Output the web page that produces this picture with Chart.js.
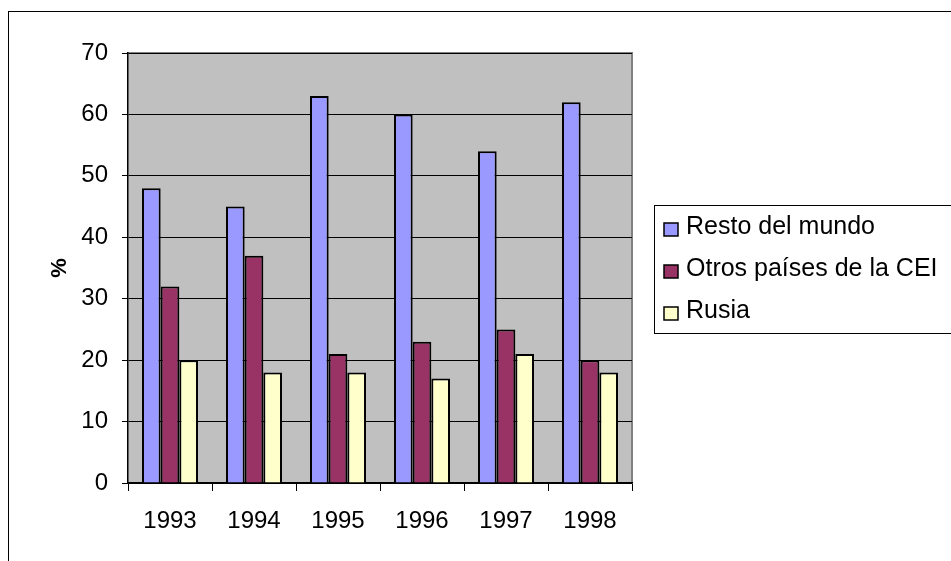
<!DOCTYPE html>
<html>
<head>
<meta charset="utf-8">
<script src="https://cdn.jsdelivr.net/npm/chart.js@4"></script>
<style>
  html, body { margin: 0; padding: 0; background: #ffffff; }
  #wrap { width: 951px; height: 561px; position: relative; }
</style>
</head>
<body>
<div id="wrap"><canvas id="chart" width="951" height="561"></canvas></div>
<script>
// Datos del grafico
const years = ['1993', '1994', '1995', '1996', '1997', '1998'];
const restoDelMundo = [48, 45, 63, 60, 54, 62];
const otrosPaisesCEI = [32, 37, 21, 23, 25, 20];
const rusia = [20, 18, 18, 17, 21, 18];
const seriesNames = ['Resto del mundo', 'Otros países de la CEI', 'Rusia'];
const seriesColors = ['#9999FF', '#993366', '#FFFFCC'];

const FONT = 'Arial, "Liberation Sans", sans-serif';

// Outer frame + gray plot background
const framePlugin = {
    id: 'frame',
    beforeDraw(chart) {
        const ctx = chart.ctx;
        const a = chart.chartArea;
        ctx.save();
        ctx.fillStyle = '#ffffff';
        ctx.fillRect(0, 0, chart.width, chart.height);
        ctx.strokeStyle = '#000000';
        ctx.lineWidth = 1;
        ctx.strokeRect(8.5, 11.5, chart.width + 20, chart.height + 20);
        ctx.fillStyle = '#C0C0C0';
        ctx.fillRect(a.left, a.top, a.right - a.left, a.bottom - a.top);
        ctx.strokeStyle = '#808080';
        ctx.lineWidth = 2;
        ctx.beginPath();
        ctx.moveTo(a.left, a.top);
        ctx.lineTo(a.right, a.top);
        ctx.lineTo(a.right, a.bottom);
        ctx.stroke();
        ctx.restore();
    }
};

// Boxed legend on the right
const boxLegendPlugin = {
    id: 'boxLegend',
    afterDraw(chart) {
        const ctx = chart.ctx;
        const x0 = 654.5, y0 = 205.5, w = 310, h = 128;
        ctx.save();
        ctx.fillStyle = '#ffffff';
        ctx.fillRect(x0, y0, w, h);
        ctx.strokeStyle = '#000000';
        ctx.lineWidth = 1;
        ctx.strokeRect(x0, y0, w, h);
        ctx.font = '25px ' + FONT;
        ctx.textBaseline = 'middle';
        chart.data.datasets.forEach((ds, i) => {
            const cy = 227 + i * 42;
            ctx.fillStyle = ds.backgroundColor;
            ctx.fillRect(664, cy - 4, 14, 13);
            ctx.strokeStyle = '#000000';
            ctx.lineWidth = 1.5;
            ctx.strokeRect(664, cy - 4, 14, 13);
            ctx.fillStyle = '#000000';
            ctx.fillText(ds.label, 686, cy);
        });
        ctx.restore();
    }
};

const ctx = document.getElementById('chart').getContext('2d');
new Chart(ctx, {
    type: 'bar',
    data: {
        labels: years,
        datasets: [restoDelMundo, otrosPaisesCEI, rusia].map((values, i) => ({
            label: seriesNames[i],
            data: values,
            backgroundColor: seriesColors[i],
            borderColor: '#000000',
            borderWidth: 2,
            categoryPercentage: 0.667,
            barPercentage: 1.0
        }))
    },
    options: {
        responsive: false,
        animation: false,
        layout: { padding: { left: 0, top: 53, right: 319, bottom: 0 } },
        plugins: {
            legend: { display: false },
            tooltip: { enabled: false }
        },
        scales: {
            x: {
                afterFit(scale) { scale.height = 78; },
                grid: {
                    offset: true,
                    drawOnChartArea: false,
                    drawTicks: true,
                    tickLength: 8,
                    color: '#000000'
                },
                border: { color: '#000000', width: 1.5 },
                ticks: {
                    color: '#000000',
                    font: { family: FONT, size: 24 },
                    padding: 16,
                    maxRotation: 0
                }
            },
            y: {
                min: 0,
                max: 70,
                afterFit(scale) { scale.width = 128; },
                grid: {
                    color: '#000000',
                    lineWidth: 1,
                    drawTicks: true,
                    tickLength: 6
                },
                border: { color: '#000000', width: 1.5 },
                ticks: {
                    stepSize: 10,
                    color: '#000000',
                    font: { family: FONT, size: 24 },
                    padding: 14
                },
                title: {
                    display: true,
                    text: '%',
                    color: '#000000',
                    font: { family: FONT, size: 22, weight: 'bold' },
                    padding: { top: 47, bottom: 0 }
                }
            }
        }
    },
    plugins: [framePlugin, boxLegendPlugin]
});
</script>
</body>
</html>
